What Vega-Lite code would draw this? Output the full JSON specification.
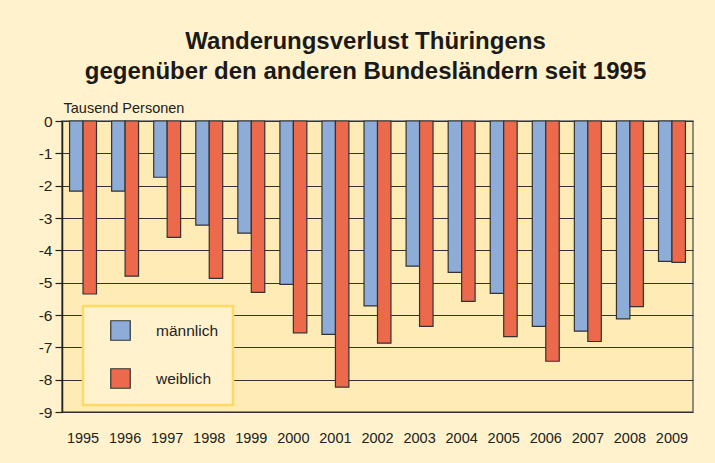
{
  "$schema": "https://vega.github.io/schema/vega-lite/v6.json",
  "width": 631,
  "height": 291,
  "autosize": "none",
  "padding": {"left": 62, "top": 121, "right": 22, "bottom": 51},
  "background": "#FFF2CC",
  "title": {
    "text": ["Wanderungsverlust Thüringens", "gegenüber den anderen Bundesländern seit 1995"],
    "font": "Liberation Sans",
    "fontSize": 24,
    "fontWeight": "bold",
    "color": "#1a1a1a",
    "anchor": "middle",
    "dx": -12,
    "offset": 16,
    "lineHeight": 30
  },
  "config": {
    "view": {"fill": "#FFEBB5", "stroke": "#6b6b6b", "strokeWidth": 1.5},
    "font": "Liberation Sans"
  },
  "data": {
    "values": [
      {"year": "1995", "gender": "männlich", "value": -2.17},
      {"year": "1995", "gender": "weiblich", "value": -5.35},
      {"year": "1996", "gender": "männlich", "value": -2.17},
      {"year": "1996", "gender": "weiblich", "value": -4.8},
      {"year": "1997", "gender": "männlich", "value": -1.74},
      {"year": "1997", "gender": "weiblich", "value": -3.6},
      {"year": "1998", "gender": "männlich", "value": -3.22},
      {"year": "1998", "gender": "weiblich", "value": -4.87},
      {"year": "1999", "gender": "männlich", "value": -3.47},
      {"year": "1999", "gender": "weiblich", "value": -5.3},
      {"year": "2000", "gender": "männlich", "value": -5.05},
      {"year": "2000", "gender": "weiblich", "value": -6.55},
      {"year": "2001", "gender": "männlich", "value": -6.6},
      {"year": "2001", "gender": "weiblich", "value": -8.23},
      {"year": "2002", "gender": "männlich", "value": -5.72},
      {"year": "2002", "gender": "weiblich", "value": -6.87},
      {"year": "2003", "gender": "männlich", "value": -4.49},
      {"year": "2003", "gender": "weiblich", "value": -6.35},
      {"year": "2004", "gender": "männlich", "value": -4.68},
      {"year": "2004", "gender": "weiblich", "value": -5.58},
      {"year": "2005", "gender": "männlich", "value": -5.33},
      {"year": "2005", "gender": "weiblich", "value": -6.67},
      {"year": "2006", "gender": "männlich", "value": -6.35},
      {"year": "2006", "gender": "weiblich", "value": -7.43},
      {"year": "2007", "gender": "männlich", "value": -6.5},
      {"year": "2007", "gender": "weiblich", "value": -6.82},
      {"year": "2008", "gender": "männlich", "value": -6.12},
      {"year": "2008", "gender": "weiblich", "value": -5.74},
      {"year": "2009", "gender": "männlich", "value": -4.34},
      {"year": "2009", "gender": "weiblich", "value": -4.37}
    ]
  },
  "mark": {"type": "bar", "stroke": "#333333", "strokeWidth": 1.2, "opacity": 1},
  "encoding": {
    "x": {
      "field": "year",
      "type": "nominal",
      "scale": {"paddingInner": 0.36, "paddingOuter": 0.18},
      "axis": {
        "title": null,
        "labelAngle": 0,
        "ticks": false,
        "domain": false,
        "labelPadding": 19,
        "labelFontSize": 14.5,
        "labelColor": "#222222",
        "labelFont": "Liberation Sans"
      }
    },
    "xOffset": {"field": "gender", "type": "nominal", "scale": {"paddingInner": 0, "paddingOuter": 0}},
    "y": {
      "field": "value",
      "type": "quantitative",
      "scale": {"domain": [-9, 0], "nice": false},
      "axis": {
        "values": [0, -1, -2, -3, -4, -5, -6, -7, -8, -9],
        "labelExpr": "datum.value == 0 ? '0' : '-' + abs(datum.value)",
        "title": "Tausend Personen",
        "titleAngle": 0,
        "titleAlign": "left",
        "titleBaseline": "bottom",
        "titleX": 1,
        "titleY": -6,
        "titleFont": "Liberation Sans",
        "titleFontSize": 14.5,
        "titleFontWeight": "normal",
        "titleColor": "#222222",
        "grid": true,
        "gridColor": "#333333",
        "gridWidth": 1.2,
        "domainColor": "#222222",
        "domainWidth": 1.5,
        "tickColor": "#222222",
        "tickSize": 7,
        "tickWidth": 1.2,
        "labelFontSize": 15.5,
        "labelColor": "#222222",
        "labelPadding": 3,
        "labelFont": "Liberation Sans"
      }
    },
    "color": {
      "field": "gender",
      "type": "nominal",
      "scale": {"domain": ["männlich", "weiblich"], "range": ["#8DADD8", "#EC6A4B"]},
      "legend": {
        "title": null,
        "orient": "none",
        "legendX": 21,
        "legendY": 185,
        "fillColor": "#FFF2CC",
        "strokeColor": "#FFD966",
        "padding": 14,
        "symbolOffset": 13,
        "symbolType": "square",
        "symbolSize": 380,
        "symbolStrokeColor": "#333333",
        "symbolStrokeWidth": 1.2,
        "symbolOpacity": 1,
        "labelFontSize": 15.5,
        "labelColor": "#222222",
        "labelFont": "Liberation Sans",
        "labelOffset": 25,
        "rowPadding": 23,
        "encode": {"legend": {"update": {"strokeWidth": {"value": 2.5}}}}
      }
    }
  }
}
